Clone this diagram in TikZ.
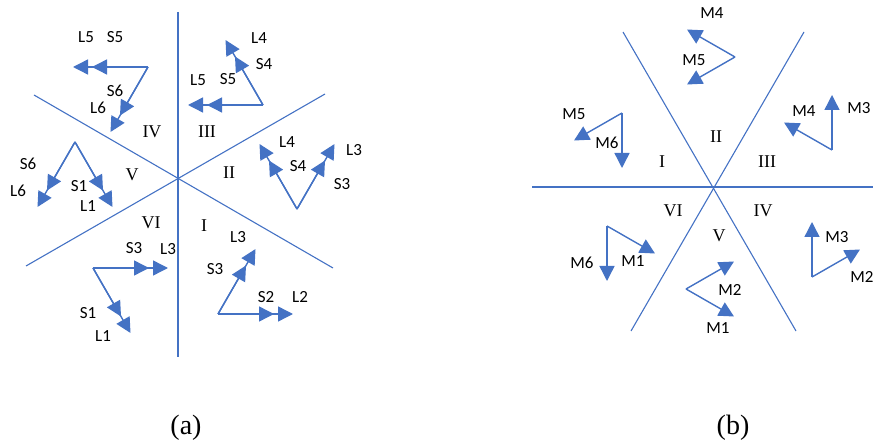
\documentclass[tikz,border=0pt]{standalone}
\usepackage{fontspec}
\setmainfont{Liberation Serif}
\newfontfamily\labfont{Carlito}
\usetikzlibrary{arrows.meta}
\definecolor{oblue}{HTML}{4472C4}
\tikzset{
  sect/.style={draw=oblue, line width=1.1pt},
  arr/.style={draw=oblue, line width=1.4pt, -{Triangle[length=15pt,width=15pt]}},
  lab/.style={font=\labfont\fontsize{17}{17}\selectfont, inner sep=0pt},
  rom/.style={font=\fontsize{18}{18}\selectfont, inner sep=0pt},
  captext/.style={font=\fontsize{28}{28}\selectfont, inner sep=0pt}
}
\begin{document}
\begin{tikzpicture}[x=1pt,y=-1pt]
\useasboundingbox (0,0) rectangle (873,446);
% ---------- panel (a) sector lines ----------
\coordinate (ac) at (178,178);
\coordinate (an) at (178,12);
\coordinate (as) at (178,357);
\coordinate (anw) at (34,95);
\coordinate (ase) at (333,268);
\coordinate (ane) at (325,94);
\coordinate (asw) at (26,266);
\draw[sect] (an) -- (as);
\draw[sect] (anw) -- (ase);
\draw[sect] (ane) -- (asw);
\node[rom] (aIV) at (152,132) {IV};
\node[rom] (aIII) at (207,132) {III};
\node[rom] (aII) at (229,173) {II};
\node[rom] (aV) at (132,175) {V};
\node[rom] (aVI) at (151,223) {VI};
\node[rom] (aI) at (204,226) {I};
% quadrant IV
\coordinate (q4) at (148,67);
\draw[arr] (q4) -- (73,67) coordinate (q4L5);
\draw[arr] (q4) -- (92,67) coordinate (q4S5);
\draw[arr] (q4) -- (110.5,132) coordinate (q4L6);
\draw[arr] (q4) -- (120,115.5) coordinate (q4S6);
\node[lab] (t4L5) at (86,37) {L5};
\node[lab] (t4S5) at (115,37) {S5};
\node[lab] (t4S6) at (115,91) {S6};
\node[lab] (t4L6) at (98,108) {L6};
% quadrant III
\coordinate (q3) at (263,105);
\draw[arr] (q3) -- (188,105) coordinate (q3L5);
\draw[arr] (q3) -- (207,105) coordinate (q3S5);
\draw[arr] (q3) -- (225.5,40) coordinate (q3L4);
\draw[arr] (q3) -- (235,56.5) coordinate (q3S4);
\node[lab] (t3L4) at (259,38) {L4};
\node[lab] (t3S4) at (264,64) {S4};
\node[lab] (t3L5) at (198,80) {L5};
\node[lab] (t3S5) at (228,79) {S5};
% quadrant II
\coordinate (q2) at (297,209);
\draw[arr] (q2) -- (259.5,144) coordinate (q2L4);
\draw[arr] (q2) -- (269,160.5) coordinate (q2S4);
\draw[arr] (q2) -- (334.5,144) coordinate (q2L3);
\draw[arr] (q2) -- (325,160.5) coordinate (q2S3);
\node[lab] (t2L4) at (287,142) {L4};
\node[lab] (t2S4) at (298,166) {S4};
\node[lab] (t2L3) at (354,150) {L3};
\node[lab] (t2S3) at (342,184) {S3};
% quadrant V
\coordinate (q5) at (75,142);
\draw[arr] (q5) -- (37.5,207) coordinate (q5L6);
\draw[arr] (q5) -- (47,190.5) coordinate (q5S6);
\draw[arr] (q5) -- (112.5,207) coordinate (q5L1);
\draw[arr] (q5) -- (103,190.5) coordinate (q5S1);
\node[lab] (t5S6) at (28,164) {S6};
\node[lab] (t5L6) at (18,191) {L6};
\node[lab] (t5S1) at (79,186) {S1};
\node[lab] (t5L1) at (88,206) {L1};
% quadrant VI
\coordinate (q6) at (93,268);
\draw[arr] (q6) -- (168,268) coordinate (q6L3);
\draw[arr] (q6) -- (149,268) coordinate (q6S3);
\draw[arr] (q6) -- (130.5,333) coordinate (q6L1);
\draw[arr] (q6) -- (121,316.5) coordinate (q6S1);
\node[lab] (t6S3) at (134,248) {S3};
\node[lab] (t6L3) at (168,249) {L3};
\node[lab] (t6S1) at (88,313) {S1};
\node[lab] (t6L1) at (103,336) {L1};
% quadrant I
\coordinate (q1) at (218,314);
\draw[arr] (q1) -- (293,314) coordinate (q1L2);
\draw[arr] (q1) -- (274,314) coordinate (q1S2);
\draw[arr] (q1) -- (255.5,249) coordinate (q1L3);
\draw[arr] (q1) -- (246,265.5) coordinate (q1S3);
\node[lab] (t1L3) at (238,237) {L3};
\node[lab] (t1S3) at (215,269) {S3};
\node[lab] (t1S2) at (266,297) {S2};
\node[lab] (t1L2) at (300,297) {L2};
% ---------- panel (b) ----------
\coordinate (bc) at (714,187);
\coordinate (bw) at (532,187);
\coordinate (be) at (873,187);
\coordinate (bnw) at (623,32);
\coordinate (bse) at (796,331);
\coordinate (bne) at (804,32);
\coordinate (bsw) at (631,331);
\draw[sect] (bw) -- (be);
\draw[sect] (bnw) -- (bse);
\draw[sect] (bne) -- (bsw);
\node[rom] (bII) at (716,137) {II};
\node[rom] (bI) at (662,162) {I};
\node[rom] (bIII) at (767,162) {III};
\node[rom] (bVI) at (673,211) {VI};
\node[rom] (bIV) at (763,211) {IV};
\node[rom] (bV) at (719,236) {V};
% sector II
\coordinate (s2) at (735,57);
\draw[arr] (s2) -- (687,29.5) coordinate (s2M4);
\draw[arr] (s2) -- (687,84.5) coordinate (s2M5);
\node[lab] (u2M4) at (712,13) {M4};
\node[lab] (u2M5) at (694,60) {M5};
% sector I
\coordinate (s1) at (622,113);
\draw[arr] (s1) -- (622,168) coordinate (s1M6);
\draw[arr] (s1) -- (574,140.5) coordinate (s1M5);
\node[lab] (u1M5) at (574,114) {M5};
\node[lab] (u1M6) at (607,143) {M6};
% sector III
\coordinate (s3) at (832,150);
\draw[arr] (s3) -- (832,95) coordinate (s3M3);
\draw[arr] (s3) -- (784,122.5) coordinate (s3M4);
\node[lab] (u3M4) at (804,111) {M4};
\node[lab] (u3M3) at (859,108) {M3};
% sector VI
\coordinate (s6) at (607,226);
\draw[arr] (s6) -- (607,281) coordinate (s6M6);
\draw[arr] (s6) -- (655,253.5) coordinate (s6M1);
\node[lab] (u6M6) at (582,263) {M6};
\node[lab] (u6M1) at (633,261) {M1};
% sector V
\coordinate (s5) at (686,289);
\draw[arr] (s5) -- (734,261.5) coordinate (s5M2);
\draw[arr] (s5) -- (734,316.5) coordinate (s5M1);
\node[lab] (u5M2) at (730,290) {M2};
\node[lab] (u5M1) at (718,328) {M1};
% sector IV
\coordinate (s4) at (812,277);
\draw[arr] (s4) -- (812,222) coordinate (s4M3);
\draw[arr] (s4) -- (860,249.5) coordinate (s4M2);
\node[lab] (u4M3) at (837,237) {M3};
\node[lab] (u4M2) at (862,277) {M2};
% captions
\node[captext] (capa) at (186,428) {(a)};
\node[captext] (capb) at (733,428) {(b)};
\end{tikzpicture}
\end{document}
